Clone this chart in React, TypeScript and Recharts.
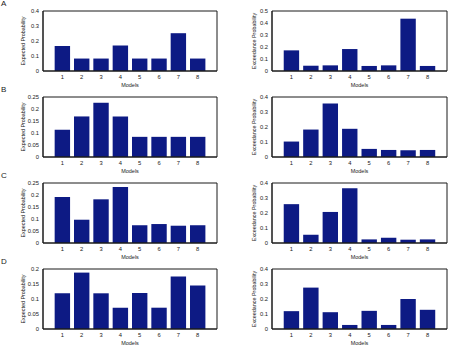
import { Bar, BarChart, XAxis, YAxis } from 'recharts';

const models = [1, 2, 3, 4, 5, 6, 7, 8];

const expectedA = [0.167, 0.083, 0.083, 0.17, 0.083, 0.083, 0.252, 0.083];
const exceedanceA = [0.172, 0.044, 0.047, 0.183, 0.042, 0.047, 0.436, 0.042];
const expectedB = [0.114, 0.169, 0.226, 0.169, 0.084, 0.084, 0.084, 0.084];
const exceedanceB = [0.103, 0.183, 0.357, 0.188, 0.054, 0.047, 0.045, 0.047];
const expectedC = [0.192, 0.097, 0.182, 0.233, 0.074, 0.079, 0.072, 0.074];
const exceedanceC = [0.259, 0.055, 0.207, 0.365, 0.024, 0.035, 0.022, 0.024];
const expectedD = [0.119, 0.188, 0.119, 0.071, 0.12, 0.071, 0.175, 0.145];
const exceedanceD = [0.119, 0.276, 0.112, 0.027, 0.121, 0.027, 0.2, 0.128];

const ticks02 = [0, 0.05, 0.1, 0.15, 0.2];
const ticks025 = [0, 0.05, 0.1, 0.15, 0.2, 0.25];
const ticks04 = [0, 0.1, 0.2, 0.3, 0.4];
const ticks05 = [0, 0.1, 0.2, 0.3, 0.4, 0.5];

const rows = [
  { letter: 'A', expected: expectedA, expTicks: ticks04, exceedance: exceedanceA, excTicks: ticks05 },
  { letter: 'B', expected: expectedB, expTicks: ticks025, exceedance: exceedanceB, excTicks: ticks04 },
  { letter: 'C', expected: expectedC, expTicks: ticks025, exceedance: exceedanceC, excTicks: ticks04 },
  { letter: 'D', expected: expectedD, expTicks: ticks02, exceedance: exceedanceD, excTicks: ticks04 },
];

const FONT = '"Liberation Sans", Arial, sans-serif';
const INK = '#1a1a1a';
const BAR = '#0d1a84';
const ROW_STEP = 86;

interface PanelProps {
  values: number[];
  ticks: number[];
  yLabel: string;
  axisWidth: number;
  rightMargin: number;
  labelOffset: number;
}

const fmt = (v: number) => (v === 0 ? '0' : String(v));

const Panel = ({ values, ticks, yLabel, axisWidth, rightMargin, labelOffset }: PanelProps) => {
  const data = models.map((m, i) => ({ model: m, value: values[i] }));
  const max = ticks[ticks.length - 1];
  const tickFont = { fontSize: 5.8, fill: INK, fontFamily: FONT };
  return (
    <BarChart
      width={225}
      height={90}
      data={data}
      margin={{ top: 11, right: rightMargin, bottom: 0, left: 0 }}
    >
      <XAxis
        dataKey="model"
        type="number"
        domain={[0, 9]}
        ticks={models}
        height={19}
        tickLine={false}
        tickSize={2}
        tickMargin={2}
        tick={tickFont}
        stroke={INK}
        label={{ value: 'Models', position: 'insideBottom', offset: 3, fontSize: 5.5, fill: INK, fontFamily: FONT }}
      />
      <YAxis
        type="number"
        domain={[0, max]}
        ticks={ticks}
        width={axisWidth}
        tickLine={false}
        tickSize={2}
        tickMargin={2}
        tick={tickFont}
        tickFormatter={fmt}
        stroke={INK}
        label={{
          value: yLabel,
          angle: -90,
          position: 'insideLeft',
          offset: labelOffset,
          fontSize: 5.4,
          fill: INK,
          fontFamily: FONT,
          style: { textAnchor: 'middle' },
        }}
      />
      {/* box edges with inward ticks */}
      <XAxis xAxisId="top" orientation="top" mirror type="number" domain={[0, 9]} ticks={models} tick={false} tickSize={2} stroke={INK} />
      <XAxis xAxisId="bottomIn" orientation="bottom" mirror type="number" domain={[0, 9]} ticks={models} tick={false} tickSize={2} stroke={INK} />
      <YAxis yAxisId="right" orientation="right" mirror type="number" domain={[0, max]} ticks={ticks} tick={false} tickSize={2} stroke={INK} />
      <YAxis yAxisId="leftIn" orientation="left" mirror type="number" domain={[0, max]} ticks={ticks} tick={false} tickSize={2} stroke={INK} />
      <Bar dataKey="value" fill={BAR} barSize={15.4} isAnimationActive={false} />
    </BarChart>
  );
};

export default function App() {
  return (
    <div
      style={{
        position: 'fixed',
        left: 0,
        top: 0,
        width: 450,
        height: 358,
        background: '#fff',
        fontFamily: FONT,
        overflow: 'hidden',
      }}
    >
      {rows.map((row, r) => {
        const top = r * ROW_STEP;
        return (
          <div key={row.letter}>
            <div
              style={{
                position: 'absolute',
                left: 1,
                top: top,
                fontSize: 8,
                lineHeight: '8px',
                color: INK,
              }}
            >
              {row.letter}
            </div>
            <div style={{ position: 'absolute', left: 0, top }}>
              <Panel
                values={row.expected}
                ticks={row.expTicks}
                yLabel="Expected Probability"
                axisWidth={43}
                rightMargin={8}
                labelOffset={23}
              />
            </div>
            <div style={{ position: 'absolute', left: 225, top }}>
              <Panel
                values={row.exceedance}
                ticks={row.excTicks}
                yLabel="Exceedance Probability"
                axisWidth={47}
                rightMargin={3}
                labelOffset={29}
              />
            </div>
          </div>
        );
      })}
    </div>
  );
}
